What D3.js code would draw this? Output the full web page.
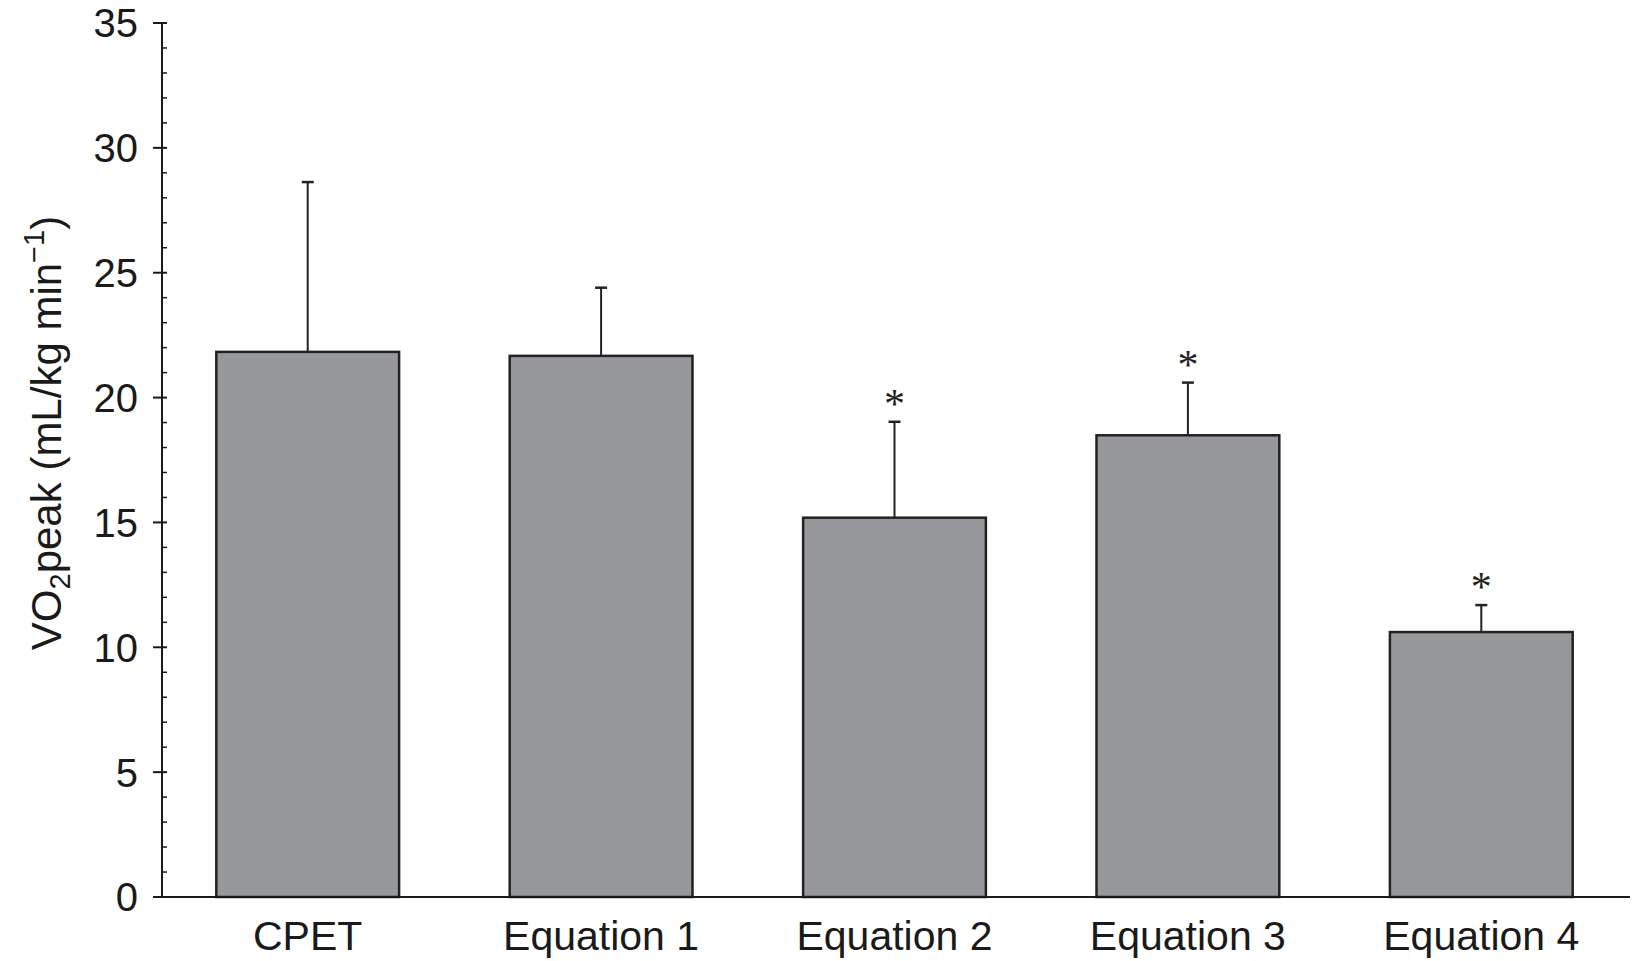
<!DOCTYPE html>
<html>
<head>
<meta charset="utf-8">
<script src="https://cdn.jsdelivr.net/npm/d3@7"></script>
<style>
  html, body { margin: 0; padding: 0; background: #fff; }
  svg { display: block; }
</style>
</head>
<body>
<svg id="chart" width="1646" height="961"></svg>
<script>
const categories = ["CPET", "Equation 1", "Equation 2", "Equation 3", "Equation 4"];
const means = [21.83, 21.67, 15.19, 18.49, 10.61];
const sdUpper = [28.63, 24.40, 19.03, 20.60, 11.69];
const significant = [false, false, true, true, true];
const yTicks = [0, 5, 10, 15, 20, 25, 30, 35];

const svg = d3.select("#chart");
const font = "'Liberation Sans', Arial, Helvetica, sans-serif";

const y = d3.scaleLinear().domain([0, 35]).range([897, 23]);
const x = d3.scaleBand().domain(categories).range([161, 1628])
  .paddingInner(0.377).paddingOuter(0.1885);

const axisColor = "#1a1a1a";

// Bars
svg.selectAll("rect.bar").data(categories).join("rect")
  .attr("class", "bar")
  .attr("x", d => x(d))
  .attr("y", (d, i) => y(means[i]))
  .attr("width", x.bandwidth())
  .attr("height", (d, i) => y(0) - y(means[i]))
  .attr("fill", "#97989b")
  .attr("stroke", "#222")
  .attr("stroke-width", 2.5);

// Error bars (upper only)
const cx = d => x(d) + x.bandwidth() / 2;
svg.selectAll("line.err").data(categories).join("line")
  .attr("class", "err")
  .attr("x1", cx).attr("x2", cx)
  .attr("y1", (d, i) => y(means[i]))
  .attr("y2", (d, i) => y(sdUpper[i]))
  .attr("stroke", "#222").attr("stroke-width", 2);
svg.selectAll("line.cap").data(categories).join("line")
  .attr("class", "cap")
  .attr("x1", d => cx(d) - 6).attr("x2", d => cx(d) + 6)
  .attr("y1", (d, i) => y(sdUpper[i]))
  .attr("y2", (d, i) => y(sdUpper[i]))
  .attr("stroke", "#222").attr("stroke-width", 2.5);

// Asterisks
svg.selectAll("text.sig").data(categories.filter((d, i) => significant[i])).join("text")
  .attr("class", "sig")
  .attr("x", cx)
  .attr("y", d => y(sdUpper[categories.indexOf(d)]) - 4)
  .attr("text-anchor", "middle")
  .attr("font-family", "'Liberation Serif', 'Times New Roman', serif")
  .attr("font-size", 42)
  .attr("fill", "#222")
  .text("*");

// Y axis
const yAxisG = svg.append("g").attr("transform", "translate(162,0)");
yAxisG.append("line").attr("x1", 0).attr("x2", 0).attr("y1", y(35)).attr("y2", y(0))
  .attr("stroke", axisColor).attr("stroke-width", 2);
const minor = d3.range(0, 35.01, 1).filter(v => v % 5 !== 0);
yAxisG.selectAll("line.minor").data(minor).join("line")
  .attr("class", "minor")
  .attr("x1", 0).attr("x2", 5)
  .attr("y1", d => y(d)).attr("y2", d => y(d))
  .attr("stroke", axisColor).attr("stroke-width", 1.5);
yAxisG.selectAll("line.major").data(yTicks).join("line")
  .attr("class", "major")
  .attr("x1", -9).attr("x2", 5)
  .attr("y1", d => y(d)).attr("y2", d => y(d))
  .attr("stroke", axisColor).attr("stroke-width", 2);
yAxisG.selectAll("text.tl").data(yTicks).join("text")
  .attr("class", "tl")
  .attr("x", -24)
  .attr("y", d => y(d))
  .attr("dy", "0.36em")
  .attr("text-anchor", "end")
  .attr("font-family", font)
  .attr("font-size", 40)
  .attr("fill", "#1a1a1a")
  .text(d => d);

// X axis
svg.append("line").attr("x1", 153).attr("x2", 1630).attr("y1", y(0)).attr("y2", y(0))
  .attr("stroke", axisColor).attr("stroke-width", 2);
svg.selectAll("text.xl").data(categories).join("text")
  .attr("class", "xl")
  .attr("x", cx)
  .attr("y", 950)
  .attr("text-anchor", "middle")
  .attr("font-family", font)
  .attr("font-size", 41)
  .attr("fill", "#1a1a1a")
  .text(d => d);

// Y axis label
const yl = svg.append("text")
  .attr("transform", "translate(61,433) rotate(-90)")
  .attr("text-anchor", "middle")
  .attr("font-family", font)
  .attr("font-size", 42)
  .attr("fill", "#1a1a1a");
yl.append("tspan").text("VO");
yl.append("tspan").attr("font-size", 29).attr("dy", 9).text("2");
yl.append("tspan").attr("dy", -9).text("peak (mL/kg min");
yl.append("tspan").attr("font-size", 29).attr("dy", -17).text("\u22121");
yl.append("tspan").attr("dy", 17).text(")");
</script>
</body>
</html>
